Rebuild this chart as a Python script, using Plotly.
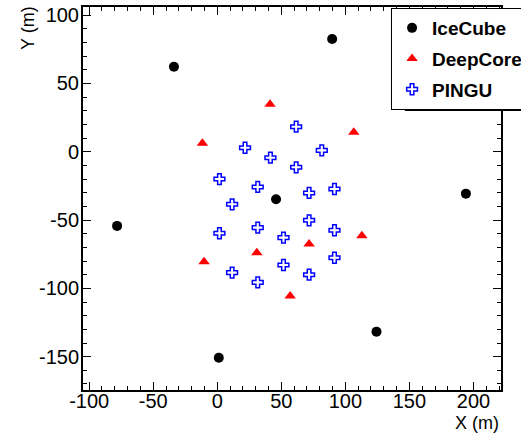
import plotly.graph_objects as go

# ---- data (metres) ----
icecube_x = [89.7, -33.8, -78.2, 45.9, 194.1, 124.3, 1.2]
icecube_y = [82.5, 62.2, -54.3, -34.8, -30.7, -131.7, -150.8]

deepcore_x = [-11.6, 41.2, 106.6, 112.9, 71.7, 30.9, -10.3, 56.9]
deepcore_y = [6.1, 34.7, 14.2, -61.5, -67.5, -73.9, -80.5, -105.6]

pingu_x = [61.6, 21.7, 81.6, 41.5, 61.6, 1.7, 31.6, 71.7, 91.5, 11.6,
           71.7, 31.6, 1.7, 91.5, 51.7, 91.5, 51.7, 11.6, 71.7, 31.6]
pingu_y = [18.3, 2.9, 1.0, -4.4, -11.4, -20.0, -25.8, -30.2, -27.3, -38.5,
           -50.2, -55.6, -59.7, -57.5, -62.9, -77.6, -82.9, -88.5, -90.0, -95.6]

x_ticks = [-100, -50, 0, 50, 100, 150, 200]
y_ticks = [-150, -100, -50, 0, 50, 100]
x_tick_labels = [str(v) for v in x_ticks]
y_tick_labels = [str(v) for v in y_ticks]

FONT = "Liberation Sans, Arial, Helvetica, sans-serif"

fig = go.Figure()
fig.add_trace(go.Scatter(x=icecube_x, y=icecube_y, mode="markers", name="IceCube",
                         legendgroup="a",
                         marker=dict(symbol="circle", size=10, color="black")))
fig.add_trace(go.Scatter(x=deepcore_x, y=deepcore_y, mode="markers", name="DeepCore",
                         legendgroup="b",
                         marker=dict(symbol="triangle-up", size=10, color="#ff0000")))
fig.add_trace(go.Scatter(x=pingu_x, y=pingu_y, mode="markers", name="PINGU",
                         legendgroup="c",
                         marker=dict(symbol="cross-open", size=9, color="#0000ff",
                                     line=dict(width=1.5, color="#0000ff"))))

axis_common = dict(
    showgrid=False, zeroline=False, showline=True, linecolor="black", linewidth=2,
    mirror="allticks", ticks="inside", ticklen=8, tickwidth=1, tickcolor="black",
    tickfont=dict(family=FONT, size=20, color="black"),
    minor=dict(ticks="inside", ticklen=4, tickwidth=1, tickcolor="black", dtick=10, tick0=0),
)

fig.update_xaxes(range=[-104.8, 221.5], tickmode="array", tickvals=x_ticks,
                 ticktext=x_tick_labels, ticklabelstandoff=-8, **axis_common)
fig.update_yaxes(range=[-174.4, 105.9], tickmode="array", tickvals=y_ticks,
                 ticktext=y_tick_labels, ticklabelstandoff=-2, **axis_common)

fig.update_layout(
    width=521, height=434,
    margin=dict(l=83, r=20, t=7, b=44, autoexpand=False),
    paper_bgcolor="white", plot_bgcolor="white",
    font=dict(family=FONT, color="black"),
    showlegend=True,
    legend=dict(x=0.737, y=0.9974, xanchor="left", yanchor="top",
                bgcolor="white", bordercolor="black", borderwidth=1,
                font=dict(family=FONT, size=19, color="black", weight="bold"),
                traceorder="grouped", tracegroupgap=3),
    annotations=[
        dict(text="X (m)", xref="paper", yref="paper", x=1.0, y=-0.087,
             xanchor="right", yanchor="middle", showarrow=False,
             font=dict(family=FONT, size=18, color="black")),
        dict(text="Y (m)", xref="paper", yref="paper", x=-0.1316, y=1.008,
             xanchor="center", yanchor="top", textangle=-90, showarrow=False,
             font=dict(family=FONT, size=18, color="black")),
    ],
    shapes=[
        dict(type="rect", xref="paper", yref="paper", x0=0.770, x1=1.1,
             y0=0.7285, y1=0.739, fillcolor="black", line=dict(width=0), layer="above"),
    ],
)

fig.write_html("out.html", config={"displayModeBar": False},
               post_script="document.body.style.margin='0';document.body.style.overflow='hidden';")
